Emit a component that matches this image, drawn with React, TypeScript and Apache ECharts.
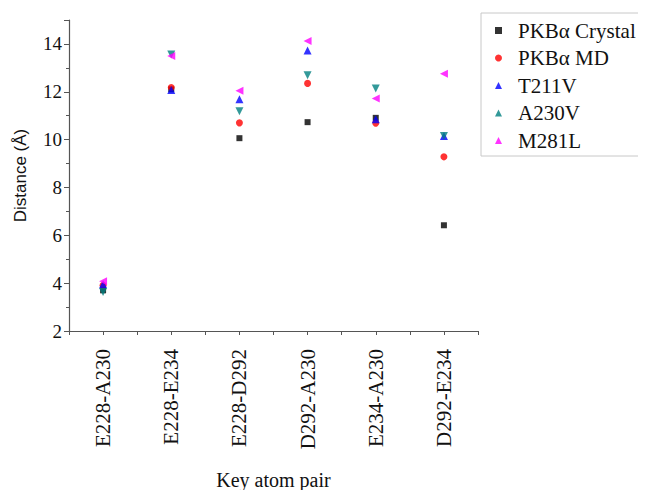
import React, { useEffect, useRef } from "react";
import * as echarts from "echarts";

const categories = ["E228-A230", "E228-E234", "E228-D292", "D292-A230", "E234-A230", "D292-E234"];
const crystal = [3.7, 12.1, 10.06, 10.73, 10.91, 6.42];
const md = [3.91, 12.18, 10.7, 12.35, 10.69, 9.28];
const t211v = [3.95, 12.07, 11.69, 13.72, 10.85, 10.15];
const a230v = [3.63, 13.56, 11.19, 12.69, 12.14, 10.15];
const m281l = [4.08, 13.49, 12.04, 14.12, 11.72, 12.75];
const yTicks = [2, 4, 6, 8, 10, 12, 14];

const seriesDefs = [
  { name: "PKBα Crystal", data: crystal, color: "#000000", symbol: "rect", size: 6, rotate: 0 },
  { name: "PKBα MD", data: md, color: "#ff0000", symbol: "circle", size: 7, rotate: 0 },
  { name: "T211V", data: t211v, color: "#0000ff", symbol: "triangle", size: 8, rotate: 0 },
  { name: "A230V", data: a230v, color: "#008080", symbol: "triangle", size: 8, rotate: 180 },
  { name: "M281L", data: m281l, color: "#ff00ff", symbol: "triangle", size: 8, rotate: 90 },
];

export default function App() {
  const ref = useRef<HTMLDivElement>(null);
  useEffect(() => {
    const chart = echarts.init(ref.current!, null, { renderer: "svg" });
    const axisColor = "#555";
    chart.setOption({
      animation: false,
      backgroundColor: "#ffffff",
      grid: { left: 61, right: 168, top: 12, bottom: 159, outerBoundsMode: "none", containLabel: false },
      legend: {
        orient: "vertical",
        left: 473,
        top: 5,
        padding: [7, 6, 5, 14],
        itemWidth: 7,
        itemHeight: 7,
        itemGap: 6.5,
        symbolKeepAspect: true,
        borderColor: "#c8c8c8",
        borderWidth: 1,
        symbolRotate: "inherit",
        textStyle: { fontFamily: "Liberation Serif", fontSize: 21, color: "#111", padding: [0, 0, 0, 11] },
        data: seriesDefs.map((s) => s.name),
      },
      xAxis: {
        type: "value",
        min: 0,
        max: 6,
        interval: 0.5,
        name: "Key atom pair",
        nameLocation: "middle",
        nameGap: 139,
        nameTextStyle: { fontFamily: "Liberation Serif", fontSize: 20, color: "#111" },
        splitLine: { show: false },
        axisLine: { show: true, lineStyle: { color: axisColor, width: 1.2 } },
        axisTick: { show: true, length: 4, lineStyle: { color: axisColor } },
        axisLabel: {
          rotate: 90,
          margin: 18,
          fontFamily: "Liberation Serif",
          fontSize: 21,
          color: "#111",
          showMinLabel: true,
          showMaxLabel: true,
          formatter: (v: number) => {
            const i = Math.round(v - 0.5);
            return Math.abs(v - 0.5 - i) < 1e-6 && i >= 0 && i < categories.length ? categories[i] : "";
          },
        },
      },
      yAxis: {
        type: "value",
        min: yTicks[0],
        max: 15,
        interval: 2,
        name: "Distance (Å)",
        nameLocation: "middle",
        nameGap: 40,
        nameTextStyle: { fontFamily: "Liberation Sans", fontSize: 17, color: "#111" },
        splitLine: { show: false },
        axisLine: { show: true, lineStyle: { color: axisColor, width: 1.2 } },
        axisTick: { show: true, length: 5, lineStyle: { color: axisColor } },
        minorTick: { show: true, splitNumber: 2, length: 3, lineStyle: { color: axisColor } },
        axisLabel: {
          margin: 7,
          fontFamily: "Liberation Serif",
          fontSize: 19,
          color: "#111",
          formatter: (v: number) => (yTicks.includes(v) ? String(v) : ""),
        },
      },
      series: seriesDefs.map((s) => ({
        name: s.name,
        type: "scatter",
        symbol: s.symbol,
        symbolSize: s.size,
        symbolRotate: s.rotate,
        itemStyle: { color: s.color },
        data: s.data.map((v, i) => [i + 0.5, v]),
      })),
    });
    return () => chart.dispose();
  }, []);
  return <div ref={ref} style={{ width: 638, height: 482 }} />;
}
